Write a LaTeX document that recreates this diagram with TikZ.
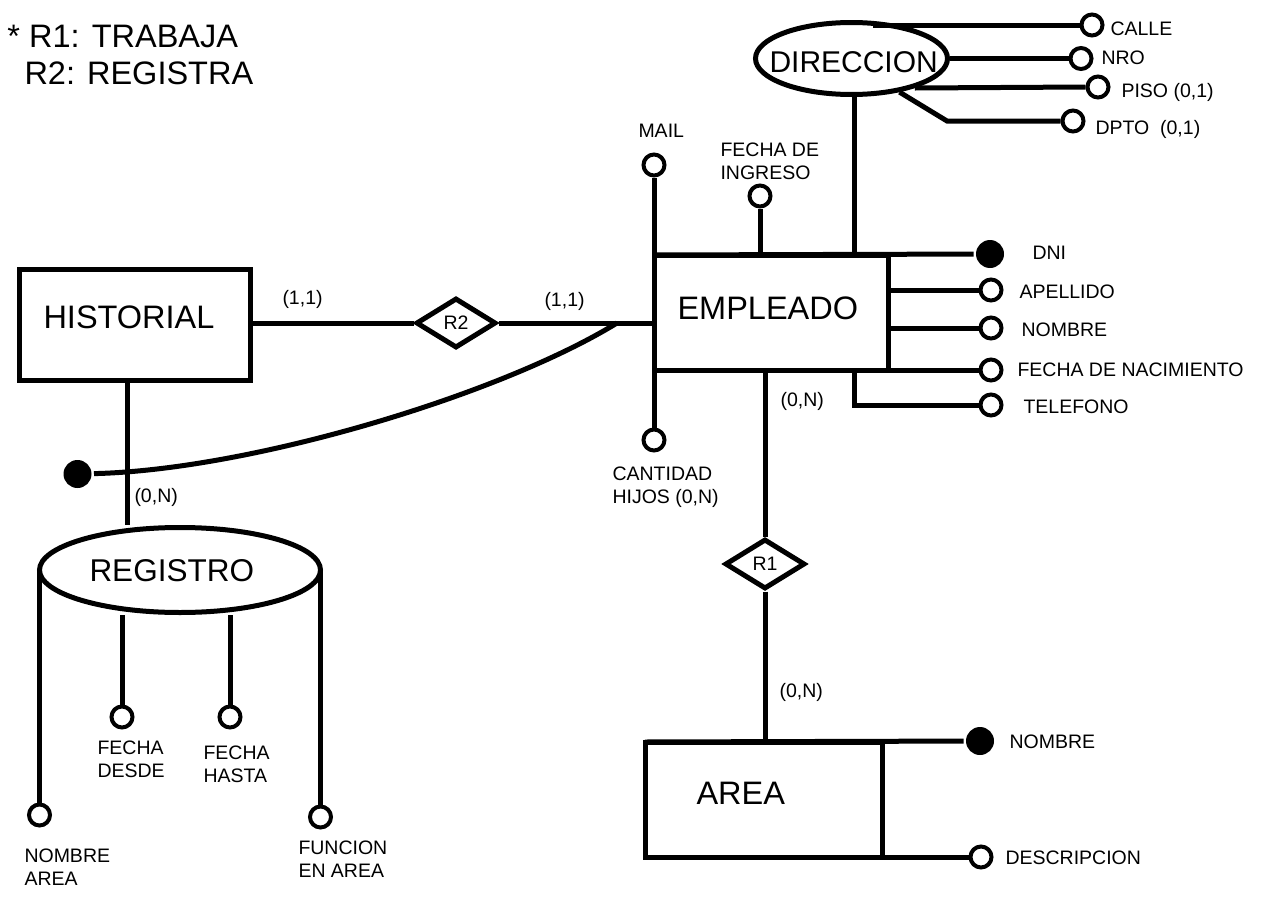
\documentclass[tikz,border=0pt]{standalone}
\usepackage{fontspec}
\setmainfont{Liberation Sans}
\usetikzlibrary{shapes.geometric,positioning}

\tikzset{
  big/.style={font=\fontsize{32.5}{38}\selectfont,inner sep=0pt,anchor=base west},
  lbl/.style={font=\fontsize{19.5}{23}\selectfont,inner sep=0pt,anchor=base west},
  lbltwo/.style={font=\fontsize{19.5}{23}\selectfont,inner sep=0pt,anchor=north west,align=left},
  ent/.style={draw,rectangle,line width=5pt,inner sep=0pt,outer sep=0pt},
  rel/.style={draw,diamond,line width=5pt,inner sep=0pt,minimum width=80pt,minimum height=50pt,
              font=\fontsize{19.5}{23}\selectfont},
  wk/.style={draw,ellipse,line width=5pt,inner sep=0pt},
  attr/.style={draw,circle,line width=4pt,fill=white,inner sep=0pt,minimum size=21pt},
  keyattr/.style={circle,fill=black,inner sep=0pt,minimum size=28pt},
}

\begin{document}
\begin{tikzpicture}[x=1pt,y=-1pt,line width=5pt]
  \useasboundingbox (0,0) rectangle (1278,910);

  \node[big] (leg1) at (5,47) {* R1: TRABAJA};
  \node[big] (leg2) at (22,84) {R2: REGISTRA};

  % entidades y relaciones
  \node[ent,minimum width=234pt,minimum height=115pt] (emp) at (771,312.5) {};
  \node[big] (emptxt) at (675,319) {EMPLEADO};
  \node[ent,minimum width=231pt,minimum height=111pt] (hist) at (134.5,324.5) {};
  \node[big] (histtxt) at (41,328) {HISTORIAL};
  \node[ent,minimum width=237pt,minimum height=115pt] (area) at (763.5,799.5) {};
  \node[big] (areatxt) at (694,804) {AREA};
  \node[rel] (r2) at (456,323) {R2};
  \node[rel] (r1) at (765,564) {R1};
  \node[wk,minimum width=192pt,minimum height=72pt] (dir) at (851.5,58.5) {};
  \node[big,font=\fontsize{30}{36}\selectfont] (dirtxt) at (767,72) {DIRECCION};
  \node[wk,minimum width=281pt,minimum height=85pt] (reg) at (180,570) {};
  \node[big,font=\fontsize{31.5}{36}\selectfont] (regtxt) at (87,581) {REGISTRO};

  % atributos de EMPLEADO
  \node[attr] (mail) at (654,165) {};
  \node[lbl] (mailtxt) at (636,137) {MAIL};
  \node[attr] (ingreso) at (760,196) {};
  \node[lbltwo] (ingresotxt) at (718,140) {FECHA DE\\INGRESO};
  \node[attr] (hijos) at (654,440) {};
  \node[lbltwo] (hijostxt) at (610,464) {CANTIDAD\\HIJOS (0,N)};
  \node[keyattr] (dni) at (990,254) {};
  \node[lbl] (dnitxt) at (1030,259) {DNI};
  \node[attr] (ape) at (991,290) {};
  \node[lbl] (apetxt) at (1017,298) {APELLIDO};
  \node[attr] (nom) at (991,328) {};
  \node[lbl] (nomtxt) at (1019,336) {NOMBRE};
  \node[attr] (fnac) at (991,370) {};
  \node[lbl] (fnactxt) at (1015,376) {FECHA DE NACIMIENTO};
  \node[attr] (tel) at (991,405) {};
  \node[lbl] (teltxt) at (1021,413) {TELEFONO};

  \draw (mail.south) -- (hijos.north);
  \draw (emp.north west) -- (dni);
  \draw (ingreso.south) -- (ingreso |- emp.north);
  \draw (dir.-85) -- (dir.-85 |- emp.north);
  \draw (emp.east |- ape) -- (ape.west);
  \draw (emp.east |- nom) -- (nom.west);
  \draw (emp.south west) -- (fnac.west);
  \draw (tel.west) -| (dir.-85 |- emp.south);

  % atributos de DIRECCION
  \node[attr] (calle) at (1092,25) {};
  \node[lbl] (calletxt) at (1108,35) {CALLE};
  \node[attr] (nro) at (1081,58.5) {};
  \node[lbl] (nrotxt) at (1099,64) {NRO};
  \node[attr] (piso) at (1098,87) {};
  \node[lbl] (pisotxt) at (1119,97) {PISO (0,1)};
  \node[attr] (dpto) at (1073,121) {};
  \node[lbl] (dptotxt) at (1093,134) {DPTO \ (0,1)};
  \coordinate (dbend) at (947,121);

  \draw (calle.west -| dir.60) -- (calle.west);
  \draw (dir.east) -- (nro.west);
  \draw (dir.-25) -- (piso.west);
  \draw (dir.-35) -- (dbend) -- (dpto.west);

  % R1 con AREA
  \draw (r1.north) -- (r1 |- emp.south);
  \draw (r1.south) -- (r1 |- area.north);
  \node[lbl] (card1) at (778,406) {(0,N)};
  \node[lbl] (card2) at (777,697) {(0,N)};
  \node[keyattr] (anom) at (980,741) {};
  \node[lbl] (anomtxt) at (1007,748) {NOMBRE};
  \node[attr] (desc) at (981,857) {};
  \node[lbl] (desctxt) at (1003,864) {DESCRIPCION};
  \draw (area.north west) -- (anom);
  \draw (area.south west) -- (desc.west);

  % R2 con HISTORIAL y REGISTRO
  \draw (hist.east |- r2) -- (r2.west);
  \draw (r2.east) -- (r2 -| emp.west);
  \node[lbl] (card3) at (280,304) {(1,1)};
  \node[lbl] (card4) at (542,306) {(1,1)};
  \coordinate (cv) at (617,323);
  \node[keyattr] (hdot) at (77.5,474) {};
  \draw (cv) .. controls (500,395) and (250,470) .. (hdot);
  \draw ([xshift=-7.5pt]hist.south) -- ([xshift=-7.5pt]hist.south |- reg.north);
  \node[lbl] (card5) at (132,502) {(0,N)};

  \node[attr] (narea) at (39.5,815) {};
  \node[lbltwo] (nareatxt) at (22,846) {NOMBRE\\AREA};
  \node[attr] (fdes) at (122,717) {};
  \node[lbltwo] (fdestxt) at (95,738) {FECHA\\DESDE};
  \node[attr] (fhas) at (230,717) {};
  \node[lbltwo] (fhastxt) at (201,743) {FECHA\\HASTA};
  \node[attr] (func) at (320.5,817) {};
  \node[lbltwo] (functxt) at (296,838) {FUNCION\\EN AREA};

  \draw (narea |- reg.west) -- (narea.north);
  \draw (fdes |- reg.south) -- (fdes.north);
  \draw (fhas |- reg.south) -- (fhas.north);
  \draw (func |- reg.east) -- (func.north);
\end{tikzpicture}
\end{document}
